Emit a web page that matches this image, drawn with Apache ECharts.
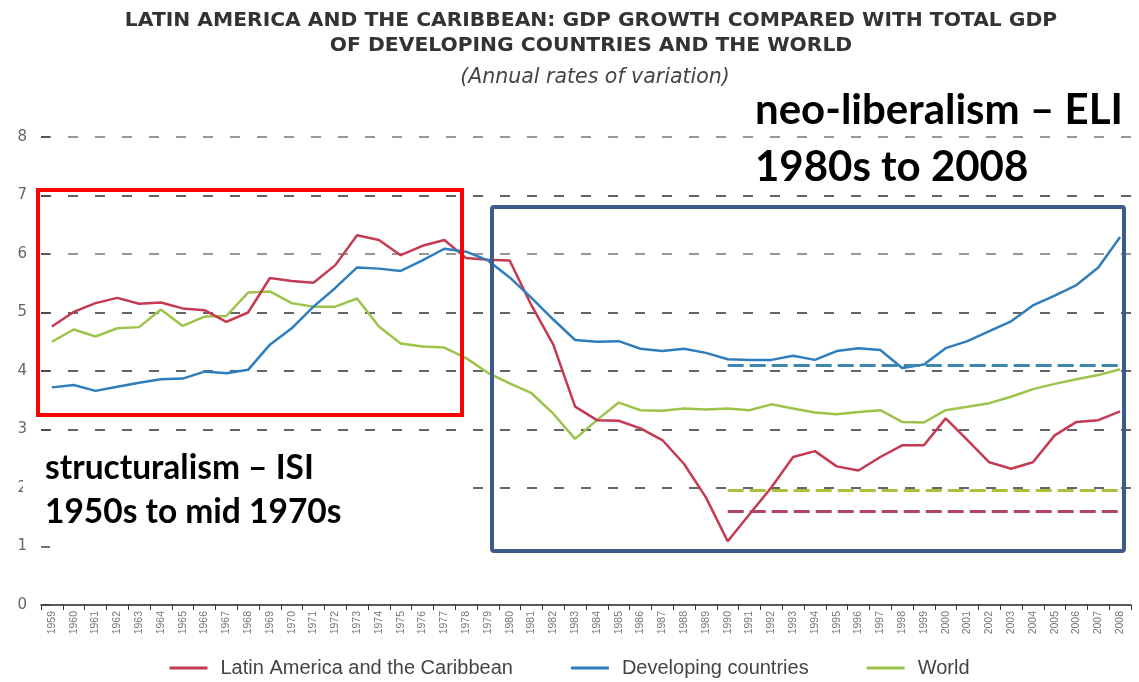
<!DOCTYPE html>
<html>
<head>
<meta charset="utf-8">
<script src="https://cdn.jsdelivr.net/npm/echarts@6/dist/echarts.min.js"></script>
<style>
  html, body { margin: 0; padding: 0; background: #fff; }
  #chart { width: 1139px; height: 682px; }
</style>
</head>
<body>
<div id="chart"></div>
<script>
// years on the x axis
var years = ['1959','1960','1961','1962','1963','1964','1965','1966','1967','1968',
  '1969','1970','1971','1972','1973','1974','1975','1976','1977','1978',
  '1979','1980','1981','1982','1983','1984','1985','1986','1987','1988',
  '1989','1990','1991','1992','1993','1994','1995','1996','1997','1998',
  '1999','2000','2001','2002','2003','2004','2005','2006','2007','2008'];

// annual rates of variation
var latam = [4.76,5.01,5.16,5.25,5.15,5.17,5.07,5.04,4.84,5.00,
  5.59,5.54,5.51,5.81,6.32,6.24,5.98,6.14,6.24,5.93,
  5.90,5.89,5.12,4.45,3.39,3.16,3.15,3.02,2.82,2.41,
  1.84,1.09,1.55,2.01,2.53,2.63,2.37,2.30,2.53,2.73,
  2.73,3.19,2.82,2.44,2.33,2.44,2.90,3.13,3.16,3.31];
var developing = [3.72,3.76,3.66,3.73,3.80,3.86,3.87,3.99,3.96,4.02,
  4.45,4.73,5.10,5.42,5.77,5.75,5.71,5.89,6.09,6.04,
  5.89,5.60,5.25,4.88,4.53,4.50,4.51,4.38,4.34,4.38,
  4.31,4.20,4.19,4.19,4.26,4.19,4.34,4.39,4.36,4.05,
  4.11,4.39,4.51,4.68,4.85,5.12,5.29,5.47,5.77,6.29];
var world = [4.50,4.71,4.59,4.73,4.75,5.05,4.77,4.93,4.94,5.34,
  5.36,5.16,5.10,5.10,5.24,4.76,4.47,4.42,4.40,4.22,
  3.97,3.79,3.62,3.27,2.84,3.16,3.46,3.33,3.32,3.36,
  3.34,3.36,3.33,3.43,3.36,3.29,3.26,3.30,3.33,3.13,
  3.12,3.33,3.39,3.45,3.56,3.69,3.78,3.86,3.93,4.03];

// period averages drawn as dashed lines
var avgFrom = '1990', avgTo = '2008';
var avgLatam = 1.60, avgDeveloping = 4.09, avgWorld = 1.96;

var yTicks = [0,1,2,3,4,5,6,7,8];

var names = ['Latin America and the Caribbean', 'Developing countries', 'World'];
var colors = ['#c43a52', '#2f7dba', '#9cc44a'];

function avgLine(v, c) {
  return {
    silent: true,
    symbol: 'none',
    label: { show: false },
    lineStyle: { type: [16, 6], width: 3, color: c },
    data: [[{ coord: [avgFrom, v] }, { coord: [avgTo, v] }]]
  };
}

var myChart = echarts.init(document.getElementById('chart'));
var option = {
  backgroundColor: '#fff',
  animation: false,
  title: [{
    text: 'LATIN AMERICA AND THE CARIBBEAN: GDP GROWTH COMPARED WITH TOTAL GDP\nOF DEVELOPING COUNTRIES AND THE WORLD',
    left: 586, top: 3, textAlign: 'center',
    textStyle: { fontFamily: 'DejaVu Sans', fontWeight: 'bold', fontSize: 20.3, color: '#333', lineHeight: 25 }
  }, {
    text: '(Annual rates of variation)',
    left: 590, top: 63, textAlign: 'center',
    textStyle: { fontFamily: 'DejaVu Sans', fontStyle: 'italic', fontWeight: 'normal', fontSize: 20.5, color: '#444' }
  }],
  legend: {
    data: names,
    bottom: -1,
    left: 'center',
    icon: 'rect',
    itemWidth: 38,
    itemHeight: 3,
    itemGap: 58,
    textStyle: { fontFamily: 'Liberation Sans', fontSize: 20, color: '#444', padding: [0, 0, 0, 8] }
  },
  grid: { left: 41, right: 8, top: 137, bottom: 77 },
  xAxis: {
    type: 'category',
    data: years,
    boundaryGap: true,
    axisLine: { lineStyle: { color: '#222', width: 1.5 } },
    axisTick: { show: true, length: 5, lineStyle: { color: '#333' } },
    axisLabel: { interval: 0, rotate: 90, fontSize: 10.5, color: '#777', margin: 6, fontFamily: 'Liberation Sans' },
    splitLine: { show: false }
  },
  yAxis: {
    type: 'value',
    min: yTicks[0], max: yTicks[yTicks.length - 1], interval: 1,
    axisLine: { show: false },
    axisTick: { show: true, inside: true, length: 9, lineStyle: { color: '#444', width: 1.5 } },
    axisLabel: { fontSize: 15, color: '#666', margin: 14, fontFamily: 'DejaVu Sans' },
    splitLine: {
      lineStyle: {
        type: [10, 17], width: 1.5,
        color: ['transparent', 'transparent', '#333', '#333', '#333', '#333', '#777', '#333', '#777']
      }
    }
  },
  series: [{
    name: names[0], type: 'line', data: latam,
    symbol: 'none', lineStyle: { width: 2.5, color: colors[0] }, itemStyle: { color: colors[0] },
    markLine: avgLine(avgLatam, '#b24660'), z: 3
  }, {
    name: names[1], type: 'line', data: developing,
    symbol: 'none', lineStyle: { width: 2.5, color: colors[1] }, itemStyle: { color: colors[1] },
    markLine: avgLine(avgDeveloping, '#3f86b0'), z: 3
  }, {
    name: names[2], type: 'line', data: world,
    symbol: 'none', lineStyle: { width: 2.5, color: colors[2] }, itemStyle: { color: colors[2] },
    markLine: avgLine(avgWorld, '#a9c43c'), z: 2
  }],
  graphic: [
    // white box behind the left annotation
    { type: 'rect', z: 50, shape: { x: 23, y: 433, width: 445, height: 103 }, style: { fill: '#fff' } },
    { type: 'text', z: 51, left: 45, top: 446,
      style: { text: 'structuralism – ISI\n1950s to mid 1970s', fill: '#000',
        font: 'bold 33.5px Lato', lineHeight: 44 } },
    { type: 'text', z: 51, left: 755, top: 82,
      style: { text: 'neo-liberalism – ELI\n1980s to 2008', fill: '#000',
        font: 'bold 42px Lato', lineHeight: 57 } },
    // period frames
    { type: 'rect', z: 60, shape: { x: 38, y: 190, width: 424, height: 225 },
      style: { fill: 'none', stroke: '#ff0000', lineWidth: 4 } },
    { type: 'rect', z: 60, shape: { x: 492, y: 207, width: 632, height: 344, r: 2 },
      style: { fill: 'none', stroke: '#3c5a8a', lineWidth: 4 } }
  ]
};
myChart.setOption(option);
window.onresize = function () { myChart.resize(); };
</script>
</body>
</html>
